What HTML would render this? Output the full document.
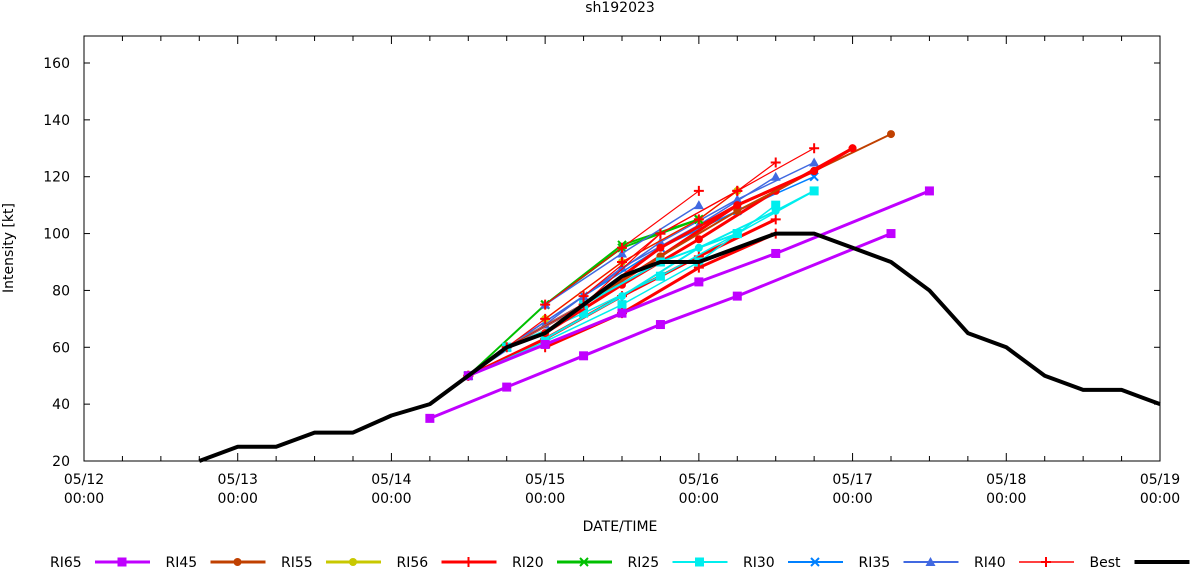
<!DOCTYPE html>
<html><head><meta charset="utf-8"><style>
body{margin:0;background:#fff;width:1193px;height:567px;overflow:hidden}
svg{position:absolute;left:0;top:0}
text{font-family:"DejaVu Sans","Liberation Sans",sans-serif;font-size:14px;fill:#000}
</style></head><body>
<svg id="s" width="1193" height="567" xmlns="http://www.w3.org/2000/svg"></svg>
<script>
const s=document.getElementById('s');
const X0=84,X1=1160,Y0=461;
const X=h=>X0+h*(X1-X0)/168, Y=v=>Y0-(v-20)*(398/140);
let o='';
o+=`<rect x="${X0}" y="36" width="${X1-X0}" height="${Y0-36}" fill="none" stroke="#000" stroke-width="1"/>`;
for(let v=20;v<=160;v+=20){let y=Y(v);o+=`<line x1="${X0}" y1="${y}" x2="${X0+6}" y2="${y}" stroke="#000"/><line x1="${X1}" y1="${y}" x2="${X1-6}" y2="${y}" stroke="#000"/><text x="${X0-14}" y="${y+5}" text-anchor="end">${v}</text>`;}
for(let h=0;h<=168;h+=6){let x=X(h),l=h%24==0?8:5;o+=`<line x1="${x}" y1="${Y0}" x2="${x}" y2="${Y0-l}" stroke="#000"/><line x1="${x}" y1="36" x2="${x}" y2="${36+l}" stroke="#000"/>`;
 if(h%24==0){let d=12+h/24;o+=`<text x="${x}" y="484" text-anchor="middle">05/${d}</text><text x="${x}" y="503" text-anchor="middle">00:00</text>`;}}
o+=`<text x="620" y="12" text-anchor="middle">sh192023</text><text x="620" y="531" text-anchor="middle">DATE/TIME</text><text transform="translate(13,248) rotate(-90)" text-anchor="middle">Intensity [kt]</text>`;
function mk(x,y,m,c){
 if(m=='sq')return `<rect x="${x-4.5}" y="${y-4.5}" width="9" height="9" fill="${c}"/>`;
 if(m=='ci')return `<circle cx="${x}" cy="${y}" r="4" fill="${c}"/>`;
 if(m=='pl')return `<path d="M${x-5} ${y}H${x+5}M${x} ${y-5}V${y+5}" stroke="${c}" stroke-width="2"/>`;
 if(m=='tr')return `<path d="M${x} ${y-5}L${x+5} ${y+4}L${x-5} ${y+4}Z" fill="${c}"/>`;
 if(m=='x')return `<path d="M${x-4} ${y-4}L${x+4} ${y+4}M${x+4} ${y-4}L${x-4} ${y+4}" stroke="${c}" stroke-width="2"/>`;
 return '';}
function ser(pts,c,w,m){let p=pts.map(a=>X(a[0])+','+Y(a[1])).join(' ');let r=`<polyline points="${p}" fill="none" stroke="${c}" stroke-width="${w}" stroke-linejoin="round"/>`;pts.forEach(a=>r+=mk(X(a[0]),Y(a[1]),m,c));return r;}
const R='#ff0000',G='#00c000',C='#00eeee',B1='#0080ff',B2='#4169e1',BR='#c04000',YL='#c8c800';
const fan=[
[[[60,50],[72,63],[84,78],[96,92],[108,105]],R,3,'pl'],
[[[60,50],[72,62],[84,75],[96,90],[108,110]],C,1.5,'sq'],
[[[60,50],[72,68],[84,88],[96,103],[108,120]],B2,1.5,'tr'],
[[[60,50],[72,75],[84,95],[96,105]],G,2,'x'],
[[[66,60],[78,72],[90,85],[102,100],[114,115]],C,1.5,'sq'],
[[[66,60],[78,78],[90,95],[102,108],[114,120]],B1,1.5,'x'],
[[[66,60],[78,75],[90,92],[102,110],[114,122]],R,3,'ci'],
[[[66,60],[78,78],[90,97],[102,112],[114,125]],B2,1.5,'tr'],
[[[72,63],[84,78],[96,95],[108,108],[114,115]],C,2,'ci'],
[[[72,65],[84,82],[96,98],[108,115],[120,130]],R,3,'ci'],
[[[78,75],[90,92],[102,108],[114,122],[126,135]],BR,2,'ci'],
[[[78,75],[90,95],[102,110],[114,122],[120,130]],R,3,'ci'],
[[[72,70],[84,90],[96,105],[102,115]],YL,1.5,'ci'],
[[[66,60],[78,75],[90,90],[102,100]],C,2,'sq'],
[[[72,60],[84,72],[96,88],[108,100]],R,3,'pl'],
[[[72,75],[84,96],[96,105]],G,2,'x'],
[[[72,75],[84,93],[96,110]],B2,1.5,'tr'],
[[[60,50],[72,70],[84,90],[96,105],[108,125]],R,1.2,'pl'],
[[[66,60],[78,75],[90,100],[102,115]],R,1.2,'pl'],
[[[78,78],[90,100],[102,115],[114,130]],R,1.2,'pl'],
[[[72,75],[84,95],[96,115]],R,1.2,'pl'],
];
fan.forEach(f=>o+=ser(...f));
o+=ser([[54,35],[66,46],[78,57],[90,68],[102,78],[126,100]],'#c000ff',3,'sq');
o+=ser([[60,50],[72,61],[84,72],[96,83],[108,93],[132,115]],'#c000ff',3,'sq');
const best=[[18,20],[24,25],[30,25],[36,30],[42,30],[48,36],[54,40],[60,50],[66,60],[72,65],[78,75],[84,85],[90,90],[96,90],[102,95],[108,100],[114,100],[120,95],[126,90],[132,80],[138,65],[144,60],[150,50],[156,45],[162,45],[168,40]];
o+=`<polyline points="${best.map(a=>X(a[0])+','+Y(a[1])).join(' ')}" fill="none" stroke="#000" stroke-width="4" stroke-linejoin="round"/>`;
const leg=[['RI65','#c000ff','sq',3],['RI45',BR,'ci',3],['RI55',YL,'ci',3],['RI56',R,'pl',3],['RI20',G,'x',3],['RI25',C,'sq',2],['RI30',B1,'x',2],['RI35',B2,'tr',2],['RI40',R,'pl',1.5],['Best','#000','',4]];
leg.forEach((l,i)=>{let x=50+i*115.5;o+=`<text x="${x}" y="567">${l[0]}</text><line x1="${x+45}" y1="562" x2="${x+100}" y2="562" stroke="${l[1]}" stroke-width="${l[3]}"/>`+mk(x+72,562,l[2],l[1]);});
s.innerHTML=o;
</script>
</body></html>
